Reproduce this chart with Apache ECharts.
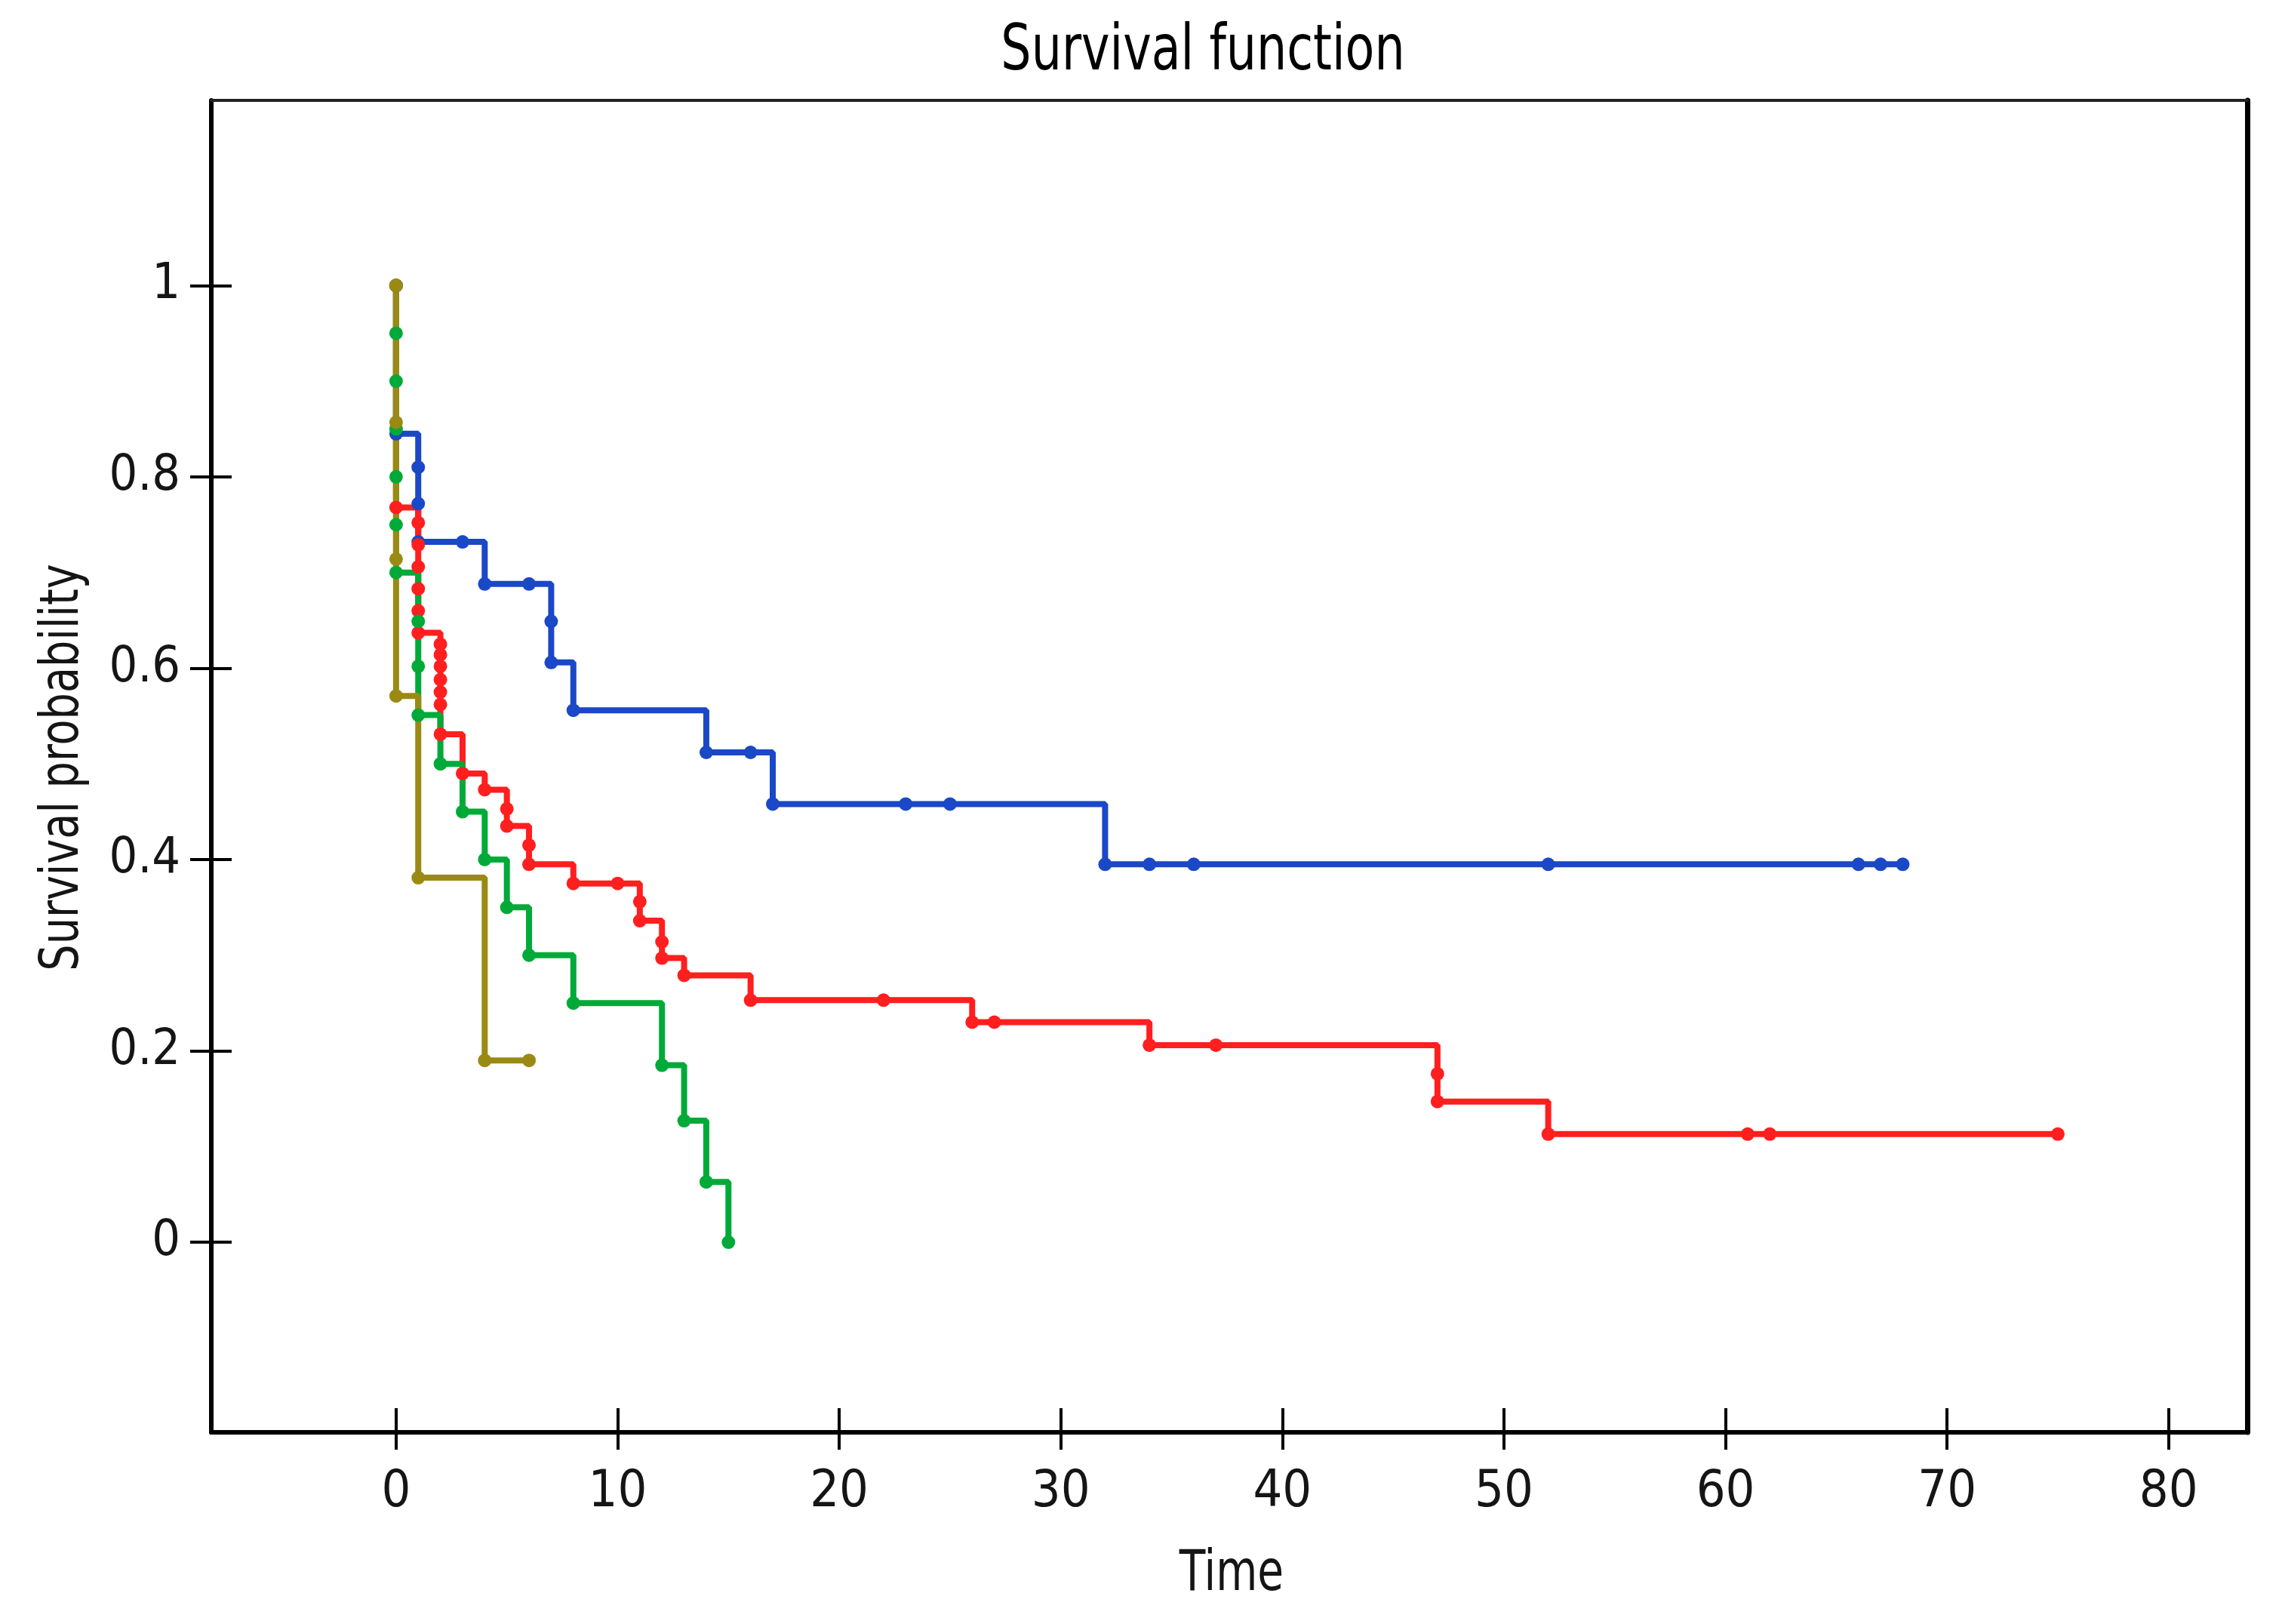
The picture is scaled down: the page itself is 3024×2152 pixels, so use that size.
<!DOCTYPE html>
<html>
<head>
<meta charset="utf-8">
<script src="https://cdn.jsdelivr.net/npm/echarts@6/dist/echarts.min.js"></script>
<style>html,body{margin:0;padding:0;background:#fff;}#c{width:3024px;height:2152px;}</style>
</head>
<body>
<div id="c"></div>
<script>
// ---- data ----
const xTicks = [0, 10, 20, 30, 40, 50, 60, 70, 80];
const yTicks = [0, 0.2, 0.4, 0.6, 0.8, 1];

const blueTime = [0, 0, 1, 1, 1, 3, 4, 6, 7, 7, 8, 14, 16, 17, 23, 25, 32, 34, 36, 52, 66, 67, 68];
const blueSurv = [1, 0.845, 0.810, 0.772, 0.732, 0.732, 0.688, 0.688, 0.649, 0.606, 0.556, 0.512, 0.512, 0.458, 0.458, 0.458, 0.395, 0.395, 0.395, 0.395, 0.395, 0.395, 0.395];

const redTime = [0, 0, 1, 1, 1, 1, 1, 1, 2, 2, 2, 2, 2, 2, 2, 3, 4, 5, 5, 6, 6, 8, 10, 11, 11, 12, 12, 13, 16, 22, 26, 27, 34, 37, 47, 47, 52, 61, 62, 75];
const redSurv = [1, 0.768, 0.752, 0.729, 0.706, 0.683, 0.660, 0.637, 0.625, 0.614, 0.602, 0.588, 0.575, 0.562, 0.531, 0.490, 0.473, 0.453, 0.435, 0.415, 0.395, 0.375, 0.375, 0.356, 0.336, 0.314, 0.297, 0.279, 0.253, 0.253, 0.230, 0.230, 0.206, 0.206, 0.176, 0.147, 0.113, 0.113, 0.113, 0.113];

const greenTime = [0, 0, 0, 0, 0, 0, 0, 1, 1, 1, 2, 3, 4, 5, 6, 8, 12, 13, 14, 15];
const greenSurv = [1, 0.95, 0.90, 0.85, 0.80, 0.75, 0.70, 0.649, 0.602, 0.551, 0.50, 0.45, 0.40, 0.35, 0.30, 0.25, 0.185, 0.127, 0.063, 0];

const oliveTime = [0, 0, 0, 0, 1, 4, 6];
const oliveSurv = [1, 0.857, 0.714, 0.571, 0.381, 0.190, 0.190];

const seriesColors = ['#1a48c6', '#ff1f1f', '#00aa38', '#9a8a14'];

// ---- chart ----
const FONT = '"Liberation Sans Narrow","Arial Narrow","DejaVu Sans Condensed","Liberation Sans",Arial,sans-serif';
const TXT = '#151515';

function pairs(t, s) { return t.map((v, i) => [v, s[i]]); }
function kmSeries(name, t, s, color, w) {
  return {
    name: name, type: 'line', step: 'end',
    data: pairs(t, s),
    xAxisIndex: 0, yAxisIndex: 0,
    symbol: 'circle', symbolSize: 18, showAllSymbol: true,
    lineStyle: { color: color, width: w },
    itemStyle: { color: color },
    emphasis: { disabled: true },
    animation: false
  };
}

const XMIN = -8.34, XMAX = 83.55, YMIN = -0.1987, YMAX = 1.1935;

const baseX = { type: 'value', min: XMIN, max: XMAX, gridIndex: 0, splitLine: { show: false } };
const baseY = { type: 'value', min: YMIN, max: YMAX, gridIndex: 0, splitLine: { show: false } };

const option = {
  backgroundColor: '#ffffff',
  animation: false,
  grid: { left: 280, right: 46, top: 133, bottom: 254, show: true, borderColor: '#111', borderWidth: 4, backgroundColor: 'transparent' },
  xAxis: [
    Object.assign({}, baseX, {
      position: 'bottom',
      axisLine: { show: true, onZero: false, lineStyle: { color: '#000', width: 6 } },
      axisTick: { show: true, inside: false, length: 23, customValues: xTicks, lineStyle: { color: '#000', width: 4 } },
      axisLabel: { show: true, customValues: xTicks, margin: 80, verticalAlign: 'middle', fontSize: 68, fontFamily: FONT, color: TXT }
    }),
    Object.assign({}, baseX, {
      position: 'bottom',
      axisLine: { show: false, onZero: false },
      axisTick: { show: true, inside: true, length: 32, customValues: xTicks, lineStyle: { color: '#000', width: 4 } },
      axisLabel: { show: false }
    }),
    Object.assign({}, baseX, {
      position: 'top',
      axisLine: { show: true, onZero: false, lineStyle: { color: '#222', width: 4 } },
      axisTick: { show: false }, axisLabel: { show: false }
    })
  ],
  yAxis: [
    Object.assign({}, baseY, {
      position: 'left',
      axisLine: { show: true, onZero: false, lineStyle: { color: '#000', width: 6 } },
      axisTick: { show: true, inside: false, length: 28, customValues: yTicks, lineStyle: { color: '#000', width: 4 } },
      axisLabel: { show: true, customValues: yTicks, margin: 41, fontSize: 66, fontFamily: FONT, color: TXT }
    }),
    Object.assign({}, baseY, {
      position: 'left',
      axisLine: { show: false, onZero: false },
      axisTick: { show: true, inside: true, length: 27, customValues: yTicks, lineStyle: { color: '#000', width: 4 } },
      axisLabel: { show: false }
    }),
    Object.assign({}, baseY, {
      position: 'right',
      axisLine: { show: true, onZero: false, lineStyle: { color: '#000', width: 7 } },
      axisTick: { show: false }, axisLabel: { show: false }
    })
  ],
  graphic: [
    { type: 'text', x: 1594, y: 70, scaleX: 0.85, silent: true,
      style: { text: 'Survival function', fill: '#000', fontSize: 83, fontFamily: FONT, align: 'center', verticalAlign: 'middle' } },
    { type: 'text', x: 1632, y: 2088, scaleX: 0.85, silent: true,
      style: { text: 'Time', fill: TXT, fontSize: 74, fontFamily: FONT, align: 'center', verticalAlign: 'middle' } },
    { type: 'text', x: 84, y: 1017, rotation: Math.PI / 2, scaleX: 0.86, silent: true,
      style: { text: 'Survival probability', fill: TXT, fontSize: 72, fontFamily: FONT, align: 'center', verticalAlign: 'middle' } }
  ],
  series: [
    kmSeries('Group 1', blueTime, blueSurv, seriesColors[0], 8),
    kmSeries('Group 2', redTime, redSurv, seriesColors[1], 8),
    kmSeries('Group 3', greenTime, greenSurv, seriesColors[2], 8),
    kmSeries('Group 4', oliveTime, oliveSurv, seriesColors[3], 8)
  ]
};

const chart = echarts.init(document.getElementById('c'), null, { renderer: 'canvas' });
chart.setOption(option);
</script>
</body>
</html>
